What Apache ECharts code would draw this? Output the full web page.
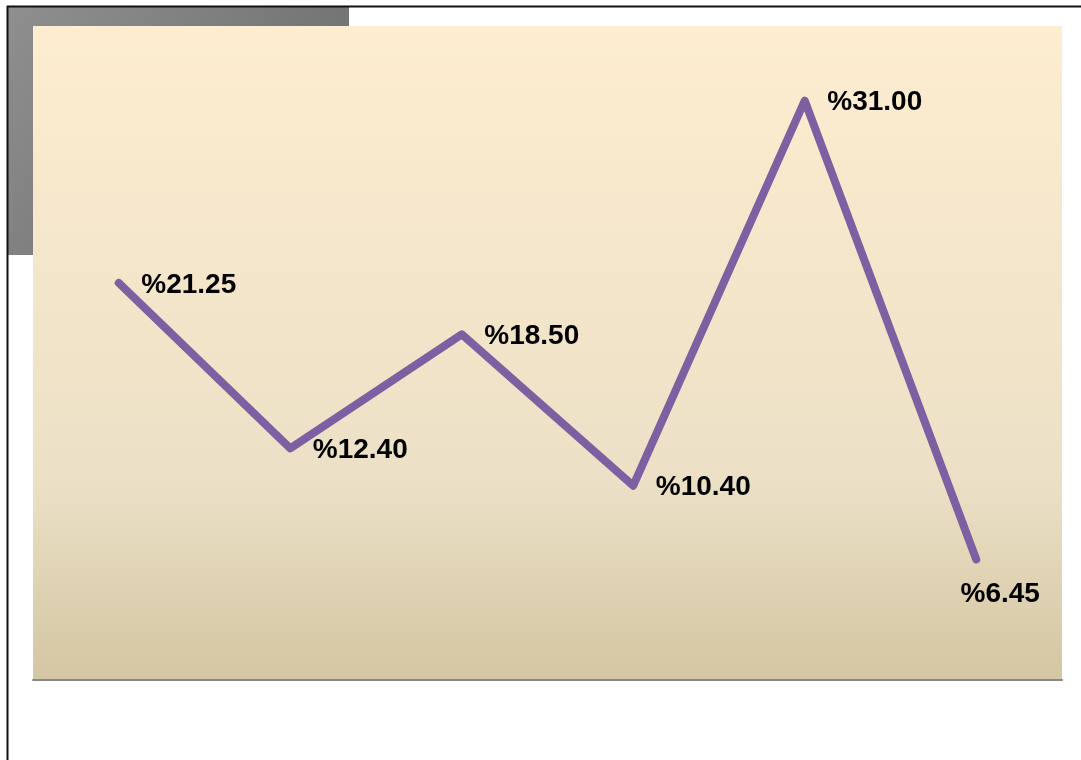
<!DOCTYPE html>
<html>
<head>
<meta charset="utf-8">
<script src="https://cdn.jsdelivr.net/npm/echarts@6/dist/echarts.min.js"></script>
<style>
  html, body { margin: 0; padding: 0; background: #fff; }
  #chart { width: 1081px; height: 760px; }
</style>
</head>
<body>
<div id="chart"></div>
<script>
// categories and values
const categories = ['1', '2', '3', '4', '5', '6']
const values = [21.25, 12.40, 18.50, 10.40, 31.00, 6.45]
const yMin = 0
const yMax = 35

const myChart = echarts.init(document.getElementById('chart'))

const seriesData = values.map((v, i) => {
  const item = { value: v }
  if (i === values.length - 1) {
    // last label sits under the point
    item.label = { position: 'bottom', distance: 20, offset: [24, 0] }
  }
  return item
})

const options = {
  animation: false,
  graphic: [
    {
      type: 'rect',
      z: -10,
      shape: { x: 8, y: 7, width: 341, height: 248 },
      style: {
        fill: new echarts.graphic.LinearGradient(0, 0, 1, 1, [
          { offset: 0, color: '#8f8f8f' },
          { offset: 1, color: '#676767' }
        ])
      }
    },
    {
      type: 'line',
      shape: { x1: 7, y1: 6.5, x2: 1081, y2: 6.5 },
      style: { stroke: '#111', lineWidth: 2 }
    },
    {
      type: 'line',
      shape: { x1: 7.5, y1: 6, x2: 7.5, y2: 760 },
      style: { stroke: '#111', lineWidth: 2 }
    }
  ],
  grid: {
    left: 33,
    right: 19,
    top: 26,
    bottom: 80,
    show: true,
    borderWidth: 0,
    backgroundColor: new echarts.graphic.LinearGradient(0, 0, 0, 1, [
      { offset: 0, color: '#feedd0' },
      { offset: 0.7, color: '#ebe0c6' },
      { offset: 1, color: '#d4c6a2' }
    ])
  },
  xAxis: {
    type: 'category',
    data: categories,
    boundaryGap: true,
    axisLine: { show: true, lineStyle: { color: '#878787', width: 2 } },
    axisTick: { show: false },
    axisLabel: { show: false },
    splitLine: { show: false }
  },
  yAxis: {
    type: 'value',
    min: yMin,
    max: yMax,
    show: false,
    splitLine: { show: false }
  },
  series: [
    {
      type: 'line',
      data: seriesData,
      symbol: 'circle',
      symbolSize: 1,
      itemStyle: { color: '#7c60a2' },
      lineStyle: { color: '#7c60a2', width: 8, cap: 'round', join: 'round' },
      label: {
        show: true,
        position: 'right',
        distance: 22,
        offset: [0, 2],
        color: '#000',
        fontFamily: 'Liberation Sans, Arial, sans-serif',
        fontWeight: 'bold',
        fontSize: 28,
        formatter: p => '%' + p.value.toFixed(2)
      }
    }
  ]
}
myChart.setOption(options)
</script>
</body>
</html>
